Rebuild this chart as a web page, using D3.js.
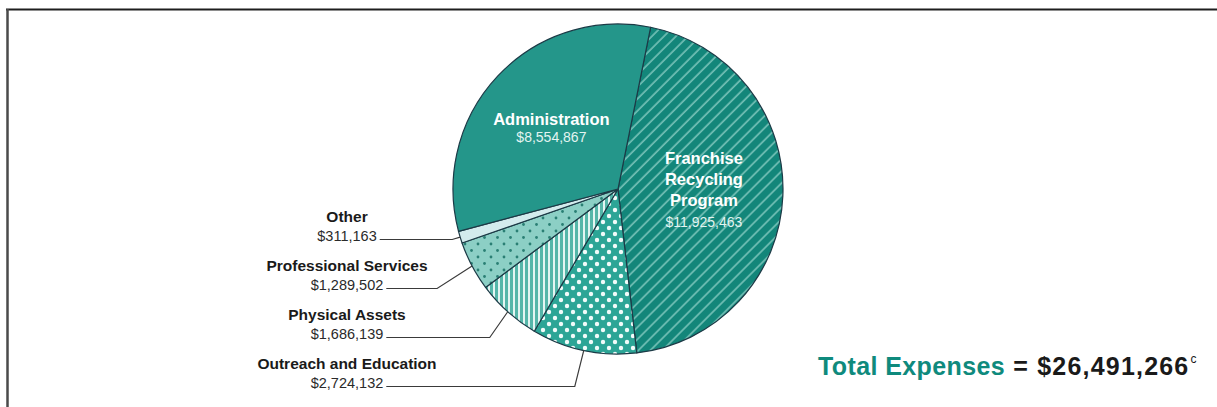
<!DOCTYPE html>
<html><head><meta charset="utf-8">
<script src="https://cdn.jsdelivr.net/npm/d3@7"></script>
<style>body{margin:0;background:#fff;} svg{display:block;}</style>
</head><body><svg id="c" width="1217" height="407"></svg>
<script>
// ---- data ----
const categories = ["Franchise Recycling Program","Outreach and Education","Physical Assets","Professional Services","Other","Administration"];
const values = [11925463, 2724132, 1686139, 1289502, 311163, 8554867];
const insideCategories = ["Administration", "Franchise Recycling Program"];
const outsideCategories = ["Other", "Professional Services", "Physical Assets", "Outreach and Education"];
const totalLabel = "Total Expenses";
const totalValue = 26491266;
const totalNote = "c";

// ---- layout ----
const W = 1217, H = 407;
const cx = 618, cy = 189, R = 165;
const a0 = 11.4 * Math.PI / 180;
const FONT = "'Liberation Sans', Arial, sans-serif";
const fmt = d3.format("$,");

const svg = d3.select("#c");
const defs = svg.append("defs");

// patterns
const pFr = defs.append("pattern").attr("id","pFr").attr("patternUnits","userSpaceOnUse")
  .attr("width",8.5).attr("height",8.5).attr("patternTransform","rotate(45)");
pFr.append("rect").attr("width",8.5).attr("height",8.5).attr("fill","#13867a");
pFr.append("line").attr("x1",1).attr("x2",1).attr("y1",0).attr("y2",8.5).attr("stroke","#a3ddd4").attr("stroke-width",1.1);

const pOut = defs.append("pattern").attr("id","pOut").attr("patternUnits","userSpaceOnUse")
  .attr("width",12).attr("height",12);
pOut.append("rect").attr("width",12).attr("height",12).attr("fill","#2ca596");
pOut.append("circle").attr("cx",3).attr("cy",3).attr("r",2.2).attr("fill","#f2fbfa");
pOut.append("circle").attr("cx",9).attr("cy",9).attr("r",2.2).attr("fill","#f2fbfa");

const pPhy = defs.append("pattern").attr("id","pPhy").attr("patternUnits","userSpaceOnUse")
  .attr("width",5).attr("height",5);
pPhy.append("rect").attr("width",5).attr("height",5).attr("fill","#55b6a9");
pPhy.append("rect").attr("x",0).attr("width",2).attr("height",5).attr("fill","#e4f5f2");

const pPro = defs.append("pattern").attr("id","pPro").attr("patternUnits","userSpaceOnUse")
  .attr("width",13).attr("height",13);
pPro.append("rect").attr("width",13).attr("height",13).attr("fill","#8ccfc5");
pPro.append("circle").attr("cx",3).attr("cy",3).attr("r",1.4).attr("fill","#2a7f74");
pPro.append("circle").attr("cx",9.5).attr("cy",9.5).attr("r",1.4).attr("fill","#2a7f74");

const fills = {
  "Franchise Recycling Program":"url(#pFr)",
  "Outreach and Education":"url(#pOut)",
  "Physical Assets":"url(#pPhy)",
  "Professional Services":"url(#pPro)",
  "Other":"#d3ebed",
  "Administration":"#24968a"
};

// frame
svg.append("line").attr("x1",6).attr("x2",W).attr("y1",9.5).attr("y2",9.5).attr("stroke","#1e1e1e").attr("stroke-width",2);
svg.append("line").attr("x1",7.5).attr("x2",7.5).attr("y1",9).attr("y2",H).attr("stroke","#4a4a4a").attr("stroke-width",2.5);

// pie
const data = categories.map((c,i)=>({cat:c, value:values[i]}));
const pie = d3.pie().sort(null).value(d=>d.value).startAngle(a0).endAngle(a0 + 2*Math.PI);
const arcs = pie(data);
const arc = d3.arc().innerRadius(0).outerRadius(R);
const g = svg.append("g").attr("transform",`translate(${cx},${cy})`);
g.selectAll("path").data(arcs).join("path")
  .attr("d",arc)
  .attr("fill",d=>fills[d.data.cat])
  .attr("stroke","#1c3a46").attr("stroke-width",1.2).attr("stroke-linejoin","round");

function arcPoint(d, r){
  const a = (d.startAngle + d.endAngle)/2;
  return [cx + r*Math.sin(a), cy - r*Math.cos(a)];
}
const byCat = c => arcs.find(a=>a.data.cat===c);

// inside labels
const insideCfg = {
  "Administration": {r:86, lines:["Administration"], lh:17, fs:16.5, dx:-4},
  "Franchise Recycling Program": {r:86, lines:["Franchise","Recycling","Program"], lh:21, fs:16.5, dx:0}
};
insideCategories.forEach(c=>{
  const d = byCat(c), cfg = insideCfg[c];
  const [x,y] = arcPoint(d, cfg.r);
  const n = cfg.lines.length + 1;
  const first = y - (n-1)*cfg.lh/2 + 3;
  const t = svg.append("text").attr("text-anchor","middle").attr("font-family",FONT).attr("fill","#ffffff");
  cfg.lines.forEach((ln,i)=>{
    t.append("tspan").attr("x",x+cfg.dx).attr("y",first + i*cfg.lh)
      .attr("font-weight","bold").attr("font-size",cfg.fs).text(ln);
  });
  t.append("tspan").attr("x",x+cfg.dx).attr("y",first + cfg.lines.length*cfg.lh)
    .attr("font-size",14).attr("fill","#e3f4f1").text(fmt(d.data.value));
});

// outside labels
const labX = 347, labY0 = 222, labStep = 49;
const elbowDx = {"Other":8, "Professional Services":35, "Physical Assets":18, "Outreach and Education":9};
outsideCategories.forEach((c,i)=>{
  const d = byCat(c);
  const yName = labY0 + i*labStep, yVal = yName + 19;
  svg.append("text").attr("x",labX).attr("y",yName).attr("text-anchor","middle")
    .attr("font-family",FONT).attr("font-weight","bold").attr("font-size",15.5).attr("fill","#1a1a1a").text(c);
  const vt = svg.append("text").attr("x",labX).attr("y",yVal).attr("text-anchor","middle")
    .attr("font-family",FONT).attr("font-size",14.5).attr("fill","#2a2a2a").text(fmt(d.data.value));
  const w = vt.node().getComputedTextLength();
  const x0 = labX + w/2 + 3;
  const [px,py] = arcPoint(d, R);
  const ly = yVal - 1.5;
  svg.append("polyline")
    .attr("points",`${x0},${ly} ${px-elbowDx[c]},${ly} ${px},${py}`)
    .attr("fill","none").attr("stroke","#3a3a3a").attr("stroke-width",1.2);
});

// total
const tt = svg.append("text").attr("x",818).attr("y",375).attr("font-family",FONT)
  .attr("font-weight","bold").attr("font-size",25);
tt.append("tspan").attr("fill","#0f8a7d").attr("letter-spacing",0.4).text(totalLabel);
tt.append("tspan").attr("fill","#1a1a1a").attr("letter-spacing",1.2).text(" = " + fmt(totalValue));
tt.append("tspan").attr("fill","#1a1a1a").attr("font-size",12).attr("font-weight","normal").attr("dy",-12).attr("dx",1).text(totalNote);
</script></body></html>
